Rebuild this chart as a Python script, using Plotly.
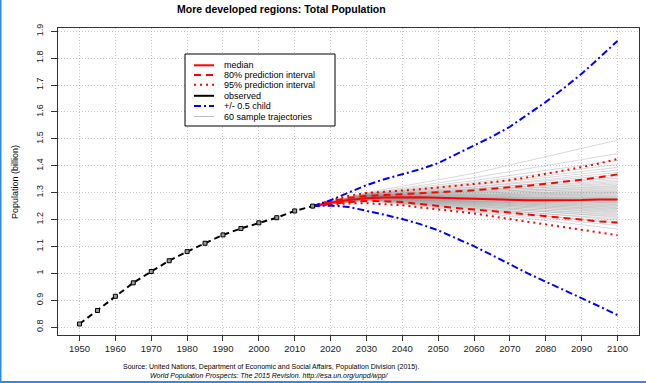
import plotly.graph_objects as go

title_text = "More developed regions: Total Population"
y_title = "Population (billion)"
source_1 = "Source: United Nations, Department of Economic and Social Affairs, Population Division (2015)."
source_2 = "World Population Prospects: The 2015 Revision. http://esa.un.org/unpd/wpp/"

obs_years = list(range(1950, 2020, 5))
obs_pop = [0.812, 0.862, 0.915, 0.965, 1.007, 1.047, 1.081, 1.112, 1.143, 1.167,
           1.188, 1.207, 1.232, 1.250]

proj_years = list(range(2015, 2105, 5))
median = [1.250, 1.263, 1.273, 1.279, 1.282, 1.283, 1.283, 1.281, 1.279, 1.277,
          1.275, 1.273, 1.272, 1.272, 1.272, 1.273, 1.275, 1.275]
pi80_up = [1.250, 1.268, 1.281, 1.288, 1.291, 1.294, 1.298, 1.302, 1.305, 1.309,
           1.314, 1.320, 1.326, 1.333, 1.340, 1.348, 1.357, 1.368]
pi80_lo = [1.250, 1.259, 1.265, 1.269, 1.268, 1.265, 1.258, 1.250, 1.243, 1.237,
           1.232, 1.226, 1.219, 1.212, 1.205, 1.198, 1.193, 1.189]
pi95_up = [1.250, 1.271, 1.288, 1.299, 1.303, 1.307, 1.313, 1.319, 1.325, 1.332,
           1.339, 1.347, 1.357, 1.370, 1.382, 1.395, 1.409, 1.425]
pi95_lo = [1.250, 1.256, 1.260, 1.261, 1.258, 1.253, 1.245, 1.237, 1.230, 1.223,
           1.212, 1.202, 1.192, 1.181, 1.171, 1.161, 1.151, 1.142]
half_child_up = [1.250, 1.272, 1.300, 1.328, 1.350, 1.368, 1.387, 1.410, 1.442, 1.475,
                 1.508, 1.545, 1.590, 1.637, 1.688, 1.742, 1.802, 1.864]
half_child_lo = [1.250, 1.252, 1.247, 1.233, 1.218, 1.202, 1.183, 1.160, 1.132, 1.101,
                 1.068, 1.033, 1.000, 0.969, 0.939, 0.909, 0.877, 0.845]

# 60 sample trajectories, read at 2015 / 2030 / 2060 / 2100
traj_years = [2015, 2030, 2060, 2100]
traj_2015 = [1.250] * 60
traj_2030 = [1.272, 1.274, 1.270, 1.276, 1.275, 1.278, 1.273, 1.279, 1.277, 1.280,
             1.276, 1.281, 1.278, 1.282, 1.279, 1.283, 1.280, 1.284, 1.281, 1.279,
             1.283, 1.285, 1.280, 1.284, 1.282, 1.286, 1.281, 1.285, 1.283, 1.287,
             1.282, 1.286, 1.284, 1.288, 1.283, 1.287, 1.285, 1.289, 1.284, 1.288,
             1.286, 1.290, 1.285, 1.289, 1.287, 1.291, 1.286, 1.290, 1.288, 1.292,
             1.289, 1.293, 1.291, 1.294, 1.292, 1.295, 1.293, 1.296, 1.297, 1.300]
traj_2060 = [1.228, 1.232, 1.240, 1.236, 1.244, 1.241, 1.249, 1.246, 1.252, 1.250,
             1.256, 1.254, 1.259, 1.257, 1.262, 1.260, 1.265, 1.263, 1.267, 1.266,
             1.269, 1.268, 1.272, 1.270, 1.274, 1.273, 1.276, 1.275, 1.278, 1.277,
             1.280, 1.279, 1.282, 1.281, 1.285, 1.284, 1.288, 1.287, 1.291, 1.290,
             1.294, 1.293, 1.298, 1.297, 1.302, 1.301, 1.306, 1.305, 1.310, 1.309,
             1.315, 1.314, 1.320, 1.322, 1.328, 1.332, 1.338, 1.345, 1.356, 1.372]
traj_2100 = [1.165, 1.178, 1.186, 1.192, 1.198, 1.203, 1.208, 1.212, 1.216, 1.220,
             1.224, 1.228, 1.231, 1.235, 1.238, 1.241, 1.244, 1.247, 1.250, 1.253,
             1.256, 1.259, 1.262, 1.264, 1.267, 1.269, 1.271, 1.273, 1.275, 1.277,
             1.279, 1.281, 1.283, 1.286, 1.289, 1.292, 1.295, 1.298, 1.301, 1.304,
             1.307, 1.311, 1.315, 1.319, 1.323, 1.327, 1.332, 1.337, 1.342, 1.348,
             1.354, 1.360, 1.367, 1.375, 1.384, 1.394, 1.405, 1.420, 1.445, 1.495]

x_ticks = list(range(1950, 2101, 10))
y_ticks = [0.8, 0.9, 1.0, 1.1, 1.2, 1.3, 1.4, 1.5, 1.6, 1.7, 1.8, 1.9]
y_tick_labels = ["0.8", "0.9", "1", "1.1", "1.2", "1.3", "1.4", "1.5", "1.6", "1.7", "1.8", "1.9"]

legend_labels = ["median", "80% prediction interval", "95% prediction interval",
                 "observed", "+/- 0.5 child", "60 sample trajectories"]

# ---- layout geometry (pixels) ----
W, H = 646, 383
L, R, T, B = 58, 639, 28, 335
FONT = "Liberation Sans, Arial, sans-serif"


def px2x(px):
    return (px - L) / (R - L)


def py2y(py):
    return (B - py) / (B - T)


RED = "#ff0000"
BLUE = "#0000ff"
GREY = "rgba(140,140,140,0.33)"

DASH_OBS = "6px,4px"
DASH_80 = "7px,5px"
DASH_95 = "2px,4px"
DASH_BLUE = "7px,3px,2px,3px"
GRID_DASH = "1px,2px"

fig = go.Figure()

# sample trajectories (single trace with gaps)
tx, ty = [], []
for i in range(len(traj_2100)):
    tx += traj_years + [None]
    ty += [traj_2015[i], traj_2030[i], traj_2060[i], traj_2100[i], None]
fig.add_trace(go.Scatter(x=tx, y=ty, mode="lines", line=dict(color=GREY, width=1),
                         showlegend=False, hoverinfo="skip"))

for vals, dash in [(pi95_up, DASH_95), (pi95_lo, DASH_95),
                   (pi80_up, DASH_80), (pi80_lo, DASH_80)]:
    fig.add_trace(go.Scatter(x=proj_years, y=vals, mode="lines",
                             line=dict(color=RED, width=2, dash=dash), showlegend=False))
fig.add_trace(go.Scatter(x=proj_years, y=median, mode="lines",
                         line=dict(color=RED, width=2), showlegend=False))
for vals in [half_child_up, half_child_lo]:
    fig.add_trace(go.Scatter(x=proj_years, y=vals, mode="lines",
                             line=dict(color=BLUE, width=2, dash=DASH_BLUE), showlegend=False))

fig.add_trace(go.Scatter(x=obs_years, y=obs_pop, mode="lines+markers",
                         line=dict(color="black", width=2, dash=DASH_OBS),
                         marker=dict(symbol="square", size=4, color="#999999",
                                     line=dict(color="black", width=1)),
                         showlegend=False))

shapes = []
annotations = []

# legend box
shapes.append(dict(type="rect", xref="paper", yref="paper",
                   x0=px2x(185), x1=px2x(335), y0=py2y(54), y1=py2y(126),
                   fillcolor="white", line=dict(color="black", width=1), layer="above"))
legend_styles = [(RED, "solid", 2), (RED, DASH_80, 2), (RED, DASH_95, 2),
                 ("black", "solid", 2), (BLUE, DASH_BLUE, 2), ("#bbbbbb", "solid", 1)]
legend_rows = [65.3, 75.0, 84.7, 95.8, 106.0, 116.5]
for lab, (col, dsh, wd), yy in zip(legend_labels, legend_styles, legend_rows):
    shapes.append(dict(type="line", xref="paper", yref="paper",
                       x0=px2x(194), x1=px2x(214), y0=py2y(yy), y1=py2y(yy),
                       line=dict(color=col, width=wd, dash=dsh), layer="above"))
    annotations.append(dict(text=lab, xref="paper", yref="paper", x=px2x(222), y=py2y(yy),
                            xanchor="left", yanchor="middle", showarrow=False,
                            font=dict(family=FONT, size=9, color="black")))

# title
annotations.append(dict(text="<b>" + title_text + "</b>", xref="paper", yref="paper",
                        x=px2x(281.5), y=py2y(9), xanchor="center", yanchor="middle",
                        showarrow=False, font=dict(family=FONT, size=10.5, color="black")))
# y title
annotations.append(dict(text=y_title, xref="paper", yref="paper", x=px2x(15), y=py2y(182),
                        xanchor="center", yanchor="middle", textangle=-90, showarrow=False,
                        font=dict(family=FONT, size=9, color="black")))
# source
annotations.append(dict(text=source_1, xref="paper", yref="paper", x=px2x(271), y=py2y(367),
                        xanchor="center", yanchor="middle", showarrow=False,
                        font=dict(family=FONT, size=7, color="black")))
annotations.append(dict(text="<i>" + source_2 + "</i>", xref="paper", yref="paper",
                        x=px2x(269), y=py2y(375.5), xanchor="center", yanchor="middle",
                        showarrow=False, font=dict(family=FONT, size=7, color="black")))

# window frame strips (blue screenshot border)
shapes.append(dict(type="rect", xref="paper", yref="paper",
                   x0=px2x(0), x1=px2x(1.5), y0=py2y(383), y1=py2y(0),
                   fillcolor="#2a8cf0", line=dict(width=0), layer="above"))
shapes.append(dict(type="rect", xref="paper", yref="paper",
                   x0=px2x(0), x1=px2x(646), y0=py2y(383), y1=py2y(381),
                   fillcolor="#2a8cf0", line=dict(width=0), layer="above"))

fig.update_layout(
    width=W, height=H,
    margin=dict(l=L, r=W - R, t=T, b=H - B, pad=0),
    paper_bgcolor="white", plot_bgcolor="white",
    showlegend=False, hovermode=False,
    shapes=shapes, annotations=annotations,
    font=dict(family=FONT, size=9, color="black"),
    xaxis=dict(range=[1944, 2106], tickvals=x_ticks, ticktext=[str(v) for v in x_ticks],
               showgrid=True, gridcolor="#c4c4c4", griddash=GRID_DASH, gridwidth=1,
               showline=True, mirror=True, linecolor="#333333", linewidth=1,
               ticks="outside", ticklen=5, tickcolor="#333333", zeroline=False,
               automargin=False,
               tickfont=dict(family=FONT, size=9.5, color="#222222")),
    yaxis=dict(range=[0.771, 1.912], tickvals=y_ticks, ticktext=y_tick_labels,
               showgrid=True, gridcolor="#c4c4c4", griddash=GRID_DASH, gridwidth=1,
               showline=True, mirror=True, linecolor="#333333", linewidth=1,
               ticks="outside", ticklen=6, tickcolor="#333333", zeroline=False,
               tickangle=-90, ticklabelstandoff=4, automargin=False,
               tickfont=dict(family=FONT, size=9, color="#222222")),
)

fig.write_html("out.html", config={"displayModeBar": False, "staticPlot": True},
               post_script="document.body.style.margin='0px';document.body.style.overflow='hidden';")
